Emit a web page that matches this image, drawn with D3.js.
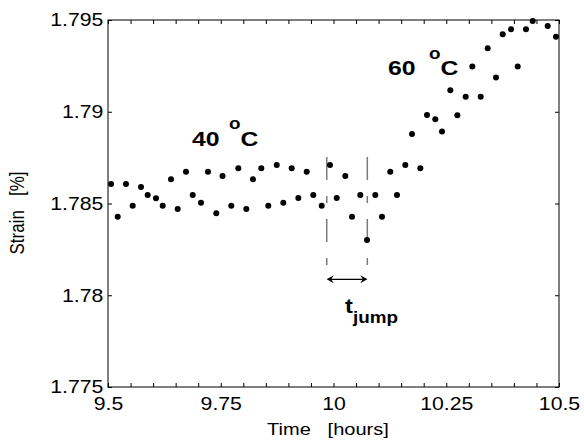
<!DOCTYPE html>
<html>
<head>
<meta charset="utf-8">
<script src="https://cdn.jsdelivr.net/npm/d3@7/dist/d3.min.js"></script>
<style>
  body { margin: 0; background: #fff; }
  text { font-family: "Liberation Sans", Arial, sans-serif; fill: #000; }
</style>
</head>
<body>
<svg id="chart" width="584" height="442"></svg>
<script>
// strain measurement, time in hours
const time = [9.5067, 9.5215, 9.5399, 9.5548, 9.5732, 9.5880, 9.6064, 9.6213, 9.6397, 9.6545,
  9.6729, 9.6878, 9.7062, 9.7217, 9.7401, 9.7539, 9.7734, 9.7889, 9.8067, 9.8215,
  9.8399, 9.8554, 9.8741, 9.8887, 9.9073, 9.9220, 9.9406, 9.9552, 9.9738, 9.9922,
  10.0071, 10.0262, 10.0410, 10.0594, 10.0743, 10.0927, 10.1075, 10.1259, 10.1408, 10.1592,
  10.1741, 10.1925, 10.2073, 10.2257, 10.2406, 10.2590, 10.2746, 10.2931, 10.3078, 10.3264,
  10.3419, 10.3603, 10.3752, 10.3936, 10.4084, 10.4268, 10.4417, 10.4749, 10.4933];
const strain = [1.78606, 1.78428, 1.78606, 1.78488, 1.78590, 1.78546, 1.78528, 1.78488, 1.78632, 1.78470,
  1.78673, 1.78546, 1.78504, 1.78673, 1.78447, 1.78650, 1.78488, 1.78692, 1.78470, 1.78632,
  1.78692, 1.78488, 1.78710, 1.78504, 1.78692, 1.78530, 1.78673, 1.78546, 1.78488, 1.78710,
  1.78530, 1.78650, 1.78428, 1.78546, 1.78301, 1.78546, 1.78428, 1.78673, 1.78546, 1.78710,
  1.78879, 1.78692, 1.78982, 1.78959, 1.78892, 1.79117, 1.78981, 1.79082, 1.79246, 1.79082,
  1.79346, 1.79186, 1.79422, 1.79449, 1.79246, 1.79449, 1.79495, 1.79467, 1.79409];

const xTicks = [9.5, 9.55, 9.6, 9.65, 9.7, 9.75, 9.8, 9.85, 9.9, 9.95, 10, 10.05, 10.1, 10.15, 10.2, 10.25, 10.3, 10.35, 10.4, 10.45, 10.5];
const xLabels = {9.5: '9.5', 9.75: '9.75', 10: '10', 10.25: '10.25', 10.5: '10.5'};
const yTicks = [1.775, 1.78, 1.785, 1.79, 1.795];
const yLabels = ['1.775', '1.78', '1.785', '1.79', '1.795'];

// jump interval (hours) and marker extents (strain)
const jump = [9.985, 10.075];
const jumpLine = [1.78753, 1.78165];
const arrowLevel = 1.78087;

const SX = 1.18; // the figure is stretched horizontally

const svg = d3.select('#chart');
const x = d3.scaleLinear().domain([9.5, 10.5]).range([108, 559]);
const y = d3.scaleLinear().domain([1.775, 1.795]).range([387, 20]);

function stext(px, py, str, size, weight, anchor) {
  return svg.append('text')
    .attr('transform', `translate(${px},${py}) scale(${SX},1)`)
    .attr('font-size', size)
    .attr('font-weight', weight || 'normal')
    .attr('text-anchor', anchor || 'start')
    .text(str);
}

// axes: ticks point inward
svg.append('g').attr('transform', 'translate(0,387)')
  .call(d3.axisBottom(x).tickValues(xTicks).tickSize(-4).tickSizeOuter(0).tickPadding(10)
    .tickFormat(d => xLabels[Math.round(d * 100) / 100] || ''));
svg.append('g').attr('transform', 'translate(0,20)')
  .call(d3.axisTop(x).tickValues(xTicks).tickSize(-4).tickSizeOuter(0).tickFormat(''));
svg.append('g').attr('transform', 'translate(108,0)')
  .call(d3.axisLeft(y).tickValues(yTicks).tickSize(-4).tickSizeOuter(0).tickPadding(4)
    .tickFormat((d, i) => yLabels[i]));
svg.append('g').attr('transform', 'translate(559,0)')
  .call(d3.axisRight(y).tickValues(yTicks).tickSize(-4).tickSizeOuter(0).tickFormat(''));

svg.selectAll('.domain').remove();
svg.selectAll('.tick line').attr('stroke', '#000');
svg.selectAll('.tick text')
  .attr('font-size', 18)
  .attr('font-family', '"Liberation Sans", Arial, sans-serif')
  .attr('fill', '#000')
  .attr('transform', `scale(${SX},1)`);

svg.append('rect')
  .attr('x', x(9.5)).attr('y', y(1.795))
  .attr('width', x(10.5) - x(9.5)).attr('height', y(1.775) - y(1.795))
  .attr('fill', 'none').attr('stroke', '#000').attr('stroke-width', 1);

// axis titles
stext(328, 435, 'Time\u00a0\u00a0\u00a0[hours]', 17, 'normal', 'middle');
svg.append('text')
  .attr('transform', `translate(24,213) rotate(-90) scale(1,${SX})`)
  .attr('font-size', 17)
  .attr('text-anchor', 'middle')
  .text('Strain\u00a0\u00a0\u00a0[%]');

// jump markers
jump.forEach(t => {
  svg.append('line')
    .attr('x1', x(t)).attr('x2', x(t))
    .attr('y1', y(jumpLine[0])).attr('y2', y(jumpLine[1]))
    .attr('stroke', '#7a7a7a').attr('stroke-width', 1.5)
    .attr('stroke-dasharray', '23,16,7,16');
});

// data points
svg.append('g').selectAll('circle')
  .data(time.map((t, i) => [t, strain[i]]))
  .join('circle')
  .attr('cx', d => x(d[0]))
  .attr('cy', d => y(d[1]))
  .attr('r', 3)
  .attr('fill', '#000');

// double arrow
const ay = y(arrowLevel);
svg.append('line')
  .attr('x1', x(jump[0]) + 1).attr('x2', x(jump[1]) - 1)
  .attr('y1', ay).attr('y2', ay)
  .attr('stroke', '#000').attr('stroke-width', 1.2);
[[x(jump[0]), 1], [x(jump[1]), -1]].forEach(([px, dir]) => {
  svg.append('path')
    .attr('d', `M${px},${ay} L${px + dir * 7},${ay - 4} L${px + dir * 4.5},${ay} L${px + dir * 7},${ay + 4} Z`)
    .attr('fill', '#000');
});

// annotations
stext(345, 313, 't', 20, 'bold');
stext(353, 323, 'jump', 16, 'bold');

const l40 = [x(9.6863), y(1.78815)];
stext(l40[0], l40[1], '40', 21, 'bold');
stext(l40[0] + 37, l40[1] - 16.5, 'o', 16, 'bold');
stext(l40[0] + 48.5, l40[1], 'C', 21, 'bold');

const l60 = [x(10.1208), y(1.792)];
stext(l60[0], l60[1], '60', 21, 'bold');
stext(l60[0] + 41, l60[1] - 16.5, 'o', 16, 'bold');
stext(l60[0] + 52.5, l60[1], 'C', 21, 'bold');
</script>
</body>
</html>
